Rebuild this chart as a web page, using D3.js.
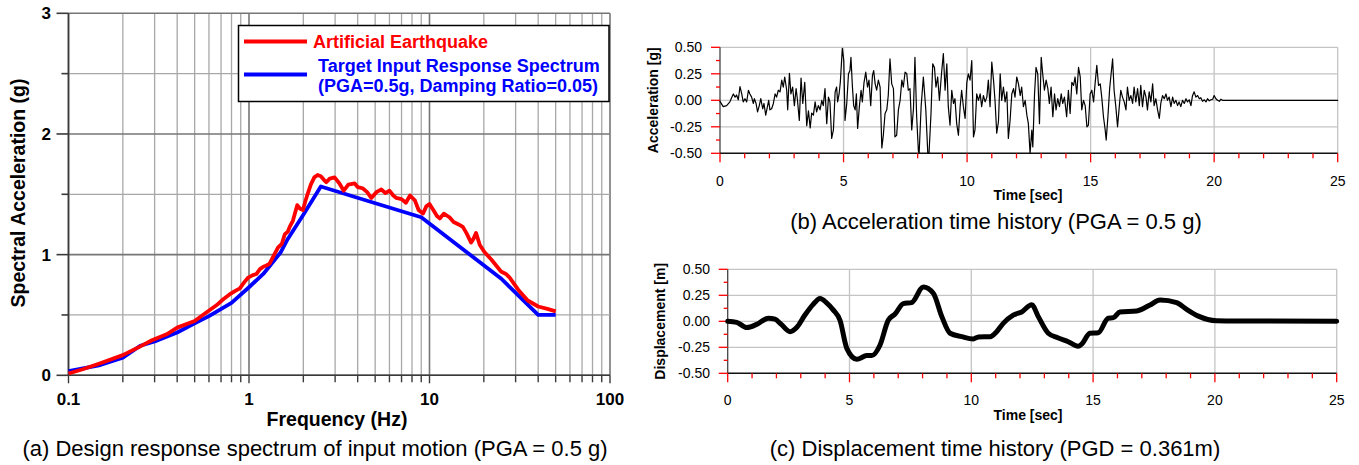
<!DOCTYPE html>
<html><head><meta charset="utf-8">
<script src="https://cdn.jsdelivr.net/npm/d3@7"></script>
<style>
html,body{margin:0;padding:0;background:#fff;}
svg{display:block;font-family:"Liberation Sans",Arial,Helvetica,sans-serif;}
</style></head><body>
<svg id="c" width="1359" height="465"></svg>
<script>
// ---------- Panel (a): response spectrum ----------
const freqTickLabels = ["0.1", "1", "10", "100"];
const freqTickValues = [0.1, 1, 10, 100];
const saTickLabels = ["0", "1", "2", "3"];
const saTickValues = [0, 1, 2, 3];

const redFreq = [0.1,0.12,0.15,0.2,0.25,0.29,0.35,0.4,0.5,0.58,0.66,0.72,0.78,0.84,0.89,0.94,0.99,1.05,1.1,1.15,1.2,1.25,1.3,1.38,1.45,1.52,1.58,1.64,1.68,1.75,1.85,1.92,1.99,2.05,2.11,2.2,2.3,2.4,2.5,2.6,2.68,2.8,2.98,3.17,3.35,3.55,3.85,4.0,4.26,4.5,4.76,5.1,5.41,5.7,6.0,6.3,6.55,7.0,7.4,7.8,8.3,8.7,9.2,9.6,10.0,10.5,11.0,11.4,12.0,12.9,13.6,14.5,15.3,16.0,17.0,17.5,18.1,19.0,20.2,22.0,24.9,26.5,27.8,31.0,35.0,40.0,45.0,50.0];
const redSa = [0.015,0.05,0.10,0.167,0.24,0.29,0.34,0.395,0.45,0.52,0.58,0.63,0.67,0.70,0.72,0.77,0.81,0.83,0.84,0.88,0.90,0.91,0.925,1.00,1.06,1.09,1.17,1.19,1.23,1.28,1.41,1.38,1.37,1.44,1.50,1.58,1.64,1.66,1.65,1.62,1.60,1.63,1.64,1.59,1.53,1.58,1.59,1.56,1.55,1.52,1.47,1.52,1.54,1.51,1.53,1.49,1.47,1.46,1.43,1.49,1.45,1.37,1.34,1.40,1.42,1.37,1.32,1.30,1.34,1.31,1.27,1.25,1.23,1.18,1.10,1.13,1.18,1.08,1.02,0.96,0.86,0.84,0.81,0.71,0.62,0.57,0.55,0.53];

const blueFreq = [0.1,0.15,0.2,0.25,0.3,0.4,0.5,0.6,0.8,1.0,1.2,1.5,1.64,2.0,2.5,4.66,9.0,25.0,40.0,50.0];
const blueSa = [0.035,0.085,0.145,0.245,0.28,0.355,0.43,0.49,0.6,0.73,0.84,1.02,1.13,1.33,1.565,1.44,1.31,0.80,0.50,0.50];

const legendLabels = ["Artificial Earthquake", "Target Input Response Spectrum", "(PGA=0.5g, Damping Ratio=0.05)"];

// ---------- Panel (b): acceleration time history ----------
const timeTickValues = [0, 5, 10, 15, 20, 25];
const timeTickLabels = ["0", "5", "10", "15", "20", "25"];
const ampTickValues = [0.5, 0.25, 0, -0.25, -0.5];
const ampTickLabels = ["0.50", "0.25", "0.00", "-0.25", "-0.50"];

const accTime = [0,0.13,0.27,0.40,0.47,0.54,0.61,0.67,0.74,0.81,0.88,0.94,1.01,1.08,1.15,1.21,1.28,1.35,1.39,1.46,1.52,1.59,1.65,1.73,1.78,1.85,1.92,1.97,2.02,2.09,2.16,2.23,2.29,2.36,2.43,2.50,2.56,2.62,2.70,2.74,2.81,2.87,2.94,3.01,3.08,3.13,3.21,3.28,3.35,3.43,3.51,3.58,3.65,3.71,3.78,
3.85,3.91,3.98,4.05,4.12,4.18,4.25,4.32,4.39,4.45,4.52,4.59,4.66,4.72,4.76,4.82,4.87,4.95,5.01,5.06,5.13,5.20,5.26,5.30,5.36,5.41,5.47,5.52,5.57,5.64,5.71,5.76,5.83,5.90,5.97,6.03,6.10,6.17,6.22,6.28,6.34,6.41,6.48,6.55,6.61,6.68,6.75,6.81,6.88,6.95,7.02,7.08,7.15,7.22,7.29,7.36,7.42,7.49,7.56,7.62,7.69,7.76,7.83,7.89,7.96,8.03,8.06,8.14,8.23,8.33,8.41,8.46,8.54,8.61,8.68,8.74,8.81,8.88,
8.97,9.04,9.11,9.18,9.24,9.31,9.38,9.45,9.51,9.58,9.65,9.72,9.78,9.85,9.92,9.99,10.05,10.12,10.19,10.26,10.32,10.39,10.46,10.53,10.59,10.66,10.73,10.80,10.86,10.93,11.00,11.07,11.13,11.20,11.27,11.34,11.40,11.47,11.54,11.61,11.67,11.74,11.81,11.88,11.94,12.01,12.08,12.15,12.21,12.28,12.35,12.42,12.48,12.55,12.62,12.66,12.73,12.79,12.86,12.93,13.00,13.06,13.13,13.20,13.27,13.33,13.40,13.47,13.54,13.60,13.67,13.74,13.81,13.87,13.94,
14.03,14.10,14.17,14.24,14.31,14.37,14.44,14.51,14.58,14.64,14.71,14.78,14.85,14.91,14.98,15.05,15.12,15.18,15.25,15.32,15.39,15.45,15.52,15.59,15.63,15.70,15.77,15.83,15.89,15.95,16.02,16.09,16.16,16.22,16.29,16.36,16.43,16.49,16.56,16.63,16.70,16.76,16.83,16.90,16.97,17.03,17.10,17.17,17.24,17.30,17.37,17.44,17.51,17.57,17.64,17.71,17.78,17.84,17.91,17.98,18.05,18.11,18.18,18.25,18.32,18.38,18.45,18.52,18.58,18.65,18.72,18.79,18.86,18.92,18.99,19.06,19.12,19.19,19.26,19.33,19.40,19.46,19.53,19.60,19.67,19.73,19.80,19.87,19.94,20.00,20.07,20.14,20.21,20.27,20.34,20.60,25.0];
const accG = [-0.01,-0.06,-0.05,-0.015,0.025,0.06,0.03,0.05,0.005,0.13,0.06,-0.015,0.015,-0.015,0.095,0.06,0.03,-0.03,0.015,-0.03,-0.11,-0.05,0.015,-0.08,-0.03,-0.14,-0.06,0.0,-0.09,-0.08,-0.03,0.06,0.03,0.095,0.08,0.19,0.125,0.22,0.095,-0.09,0.255,0.06,0.125,-0.05,0.11,0.015,-0.19,0.21,-0.03,0.17,-0.24,-0.1,-0.26,-0.12,-0.14,
-0.015,-0.11,-0.05,-0.09,0.0,-0.05,0.11,-0.22,0.03,-0.015,-0.36,-0.28,0.08,0.125,-0.015,0.06,0.17,0.49,0.375,-0.19,-0.03,0.25,0.28,0.405,0.125,-0.05,-0.09,0.06,-0.265,-0.06,0.095,-0.015,0.17,0.265,0.125,0.19,-0.05,0.235,0.28,0.155,0.095,0.19,0.125,-0.45,-0.33,-0.125,-0.09,0.045,0.39,0.155,0.11,-0.345,-0.33,-0.09,0.0,0.19,0.125,0.265,0.25,0.095,0.11,-0.28,-0.08,0.405,-0.155,-0.48,-0.5,-0.06,0.22,-0.09,-0.5,-0.5,-0.125,0.345,0.31,0.125,0.22,0.0,
0.265,0.44,0.095,0.345,-0.06,-0.235,0.095,-0.03,0.015,-0.22,-0.33,-0.06,0.095,-0.06,-0.17,0.17,0.25,0.19,0.375,-0.345,-0.28,0.06,0.0,0.06,-0.06,0.045,-0.015,0.03,0.19,-0.06,0.36,0.19,0.0,-0.31,-0.2,0.25,0.0,0.125,-0.015,0.08,-0.36,-0.19,0.06,0.11,0.03,0.22,0.155,0.045,0.125,-0.06,0.0,-0.14,-0.22,-0.5,-0.28,-0.44,0.06,0.31,0.25,-0.22,0.405,0.25,0.095,0.19,0.11,-0.03,0.125,-0.155,0.06,-0.09,0.015,-0.06,0.06,-0.03,0.03,
-0.155,0.095,-0.125,0.17,0.14,0.22,0.06,0.31,0.22,-0.09,0.0,-0.05,-0.25,-0.235,0.06,0.095,-0.015,0.155,0.33,0.14,0.155,0.03,-0.155,-0.28,-0.375,-0.155,0.11,0.25,0.39,0.095,-0.06,-0.25,-0.06,0.095,0.03,-0.015,-0.09,0.125,0.0,0.045,-0.03,0.125,-0.015,0.11,-0.05,0.14,-0.06,0.095,0.03,-0.09,0.08,-0.015,0.155,-0.05,0.015,-0.09,-0.17,-0.03,0.045,0.015,0.06,0.0,0.03,-0.06,0.03,-0.03,0.0,-0.05,-0.015,-0.06,0.0,-0.03,0.015,-0.015,0.005,-0.05,0.04,0.08,0.03,0.045,0.015,0.025,-0.01,0.005,-0.015,0.015,-0.005,0.005,0.01,0.045,0.015,0.0,-0.01,0.01,0.0,0.0,0.0];

// ---------- Panel (c): displacement time history ----------
const dispTime = [0,0.37,0.78,1.19,1.67,1.94,2.2,2.56,2.83,3.17,3.5,3.79,4.05,4.33,4.61,4.89,5.30,5.71,5.91,6.25,6.59,6.87,7.21,7.55,8.03,8.44,8.79,9.13,9.61,10.08,10.29,10.77,11.04,11.31,11.72,12.07,12.48,12.75,13.16,13.57,13.98,14.39,14.53,14.87,15.21,15.62,15.83,16.10,16.79,17.34,17.75,18.43,18.84,19.32,20.07,21.0,25.0];
const dispM = [0,-0.01,-0.06,-0.03,0.03,0.02,-0.03,-0.10,-0.06,0.06,0.16,0.22,0.18,0.11,0.01,-0.26,-0.365,-0.33,-0.33,-0.23,0.01,0.07,0.17,0.18,0.33,0.27,0.045,-0.115,-0.148,-0.17,-0.15,-0.148,-0.10,-0.02,0.06,0.09,0.16,0.045,-0.115,-0.16,-0.196,-0.24,-0.22,-0.115,-0.11,0.03,0.035,0.09,0.10,0.157,0.205,0.18,0.115,0.05,0.006,0.003,0.0];

const captions = ["(a) Design response spectrum of input motion (PGA = 0.5 g)", "(b) Acceleration time history (PGA = 0.5 g)", "(c) Displacement time history (PGD = 0.361m)"];

const svg = d3.select("#c");

// ================= Panel (a) =================
const xA = d3.scaleLog().domain([0.1, 100]).range([68.5, 610]);
const yA = d3.scaleLinear().domain([0, 3]).range([375.3, 13.3]);
const gA = svg.append("g");
const isDecade = v => Math.abs(Math.log10(v) - Math.round(Math.log10(v))) < 1e-6;

// vertical grid
gA.append("g").selectAll("line").data(xA.ticks()).join("line")
  .attr("x1", d => xA(d)).attr("x2", d => xA(d))
  .attr("y1", yA(3)).attr("y2", yA(0))
  .attr("stroke", d => isDecade(d) ? "#767676" : "#a8a8a8")
  .attr("stroke-width", d => isDecade(d) ? 1.6 : 1.3);
// horizontal grid
gA.append("g").selectAll("line").data(yA.ticks(6)).join("line")
  .attr("x1", xA(0.1)).attr("x2", xA(100))
  .attr("y1", d => yA(d)).attr("y2", d => yA(d))
  .attr("stroke", d => Number.isInteger(d) ? "#767676" : "#a8a8a8")
  .attr("stroke-width", d => Number.isInteger(d) ? 1.6 : 1.3);

// axes lines
gA.append("line").attr("x1", xA(0.1)).attr("x2", xA(0.1)).attr("y1", yA(3)).attr("y2", yA(0)).attr("stroke", "#3a3a3a").attr("stroke-width", 1.6);
gA.append("line").attr("x1", xA(0.1)).attr("x2", xA(100)).attr("y1", yA(0)).attr("y2", yA(0)).attr("stroke", "#3a3a3a").attr("stroke-width", 1.6);

// y ticks
gA.append("g").selectAll("line").data(yA.ticks(6)).join("line")
  .attr("x1", d => xA(0.1) - (Number.isInteger(d) ? 12 : 7)).attr("x2", xA(0.1))
  .attr("y1", d => yA(d)).attr("y2", d => yA(d))
  .attr("stroke", "#3a3a3a").attr("stroke-width", 1.6);
// x ticks
gA.append("g").selectAll("line").data(xA.ticks()).join("line")
  .attr("x1", d => xA(d)).attr("x2", d => xA(d))
  .attr("y1", yA(0)).attr("y2", d => yA(0) + (isDecade(d) ? 8 : 7))
  .attr("stroke", "#3a3a3a").attr("stroke-width", 1.4);

// tick labels
gA.append("g").selectAll("text").data(saTickValues).join("text")
  .attr("x", 51).attr("y", d => yA(d) + 6)
  .attr("text-anchor", "end").attr("font-size", 17).attr("font-weight", "bold")
  .text((d, i) => saTickLabels[i]);
gA.append("g").selectAll("text").data(freqTickValues).join("text")
  .attr("x", d => xA(d)).attr("y", 405)
  .attr("text-anchor", "middle").attr("font-size", 17).attr("font-weight", "bold")
  .text((d, i) => freqTickLabels[i]);

// axis titles
gA.append("text").attr("x", 337).attr("y", 426).attr("text-anchor", "middle")
  .attr("font-size", 19.5).attr("font-weight", "bold").text("Frequency (Hz)");
gA.append("text").attr("transform", "translate(25,193) rotate(-90)").attr("text-anchor", "middle")
  .attr("font-size", 19.5).attr("font-weight", "bold").text("Spectral Acceleration (g)");

// lines
const lineA = d3.line().x(d => xA(d[0])).y(d => yA(d[1]));
gA.append("path").datum(blueFreq.map((f, i) => [f, blueSa[i]]))
  .attr("d", lineA).attr("fill", "none").attr("stroke", "#0000ff").attr("stroke-width", 3.8).attr("stroke-linejoin", "round");
gA.append("path").datum(redFreq.map((f, i) => [f, redSa[i]]))
  .attr("d", lineA).attr("fill", "none").attr("stroke", "#ff0000").attr("stroke-width", 3.8).attr("stroke-linejoin", "round");

// legend
const leg = gA.append("g");
leg.append("rect").attr("x", 238.5).attr("y", 25.5).attr("width", 370.5).attr("height", 76)
  .attr("fill", "#fff").attr("stroke", "#000").attr("stroke-width", 1.5);
leg.append("line").attr("x1", 244).attr("x2", 307).attr("y1", 41.5).attr("y2", 41.5).attr("stroke", "#ff0000").attr("stroke-width", 3.8);
leg.append("line").attr("x1", 244).attr("x2", 307).attr("y1", 74.5).attr("y2", 74.5).attr("stroke", "#0000ff").attr("stroke-width", 3.8);
leg.append("text").attr("x", 313).attr("y", 48).attr("font-size", 18).attr("font-weight", "bold").attr("fill", "#ff0000").text(legendLabels[0]);
leg.append("text").attr("x", 318).attr("y", 72).attr("font-size", 18).attr("font-weight", "bold").attr("fill", "#0000ff").text(legendLabels[1]);
leg.append("text").attr("x", 318).attr("y", 92).attr("font-size", 18).attr("font-weight", "bold").attr("fill", "#0000ff").text(legendLabels[2]);

svg.append("text").attr("x", 315).attr("y", 456).attr("text-anchor", "middle").attr("font-size", 22).text(captions[0]);

// ================= Time-history panels =================
function timePanel(opts) {
  const x = d3.scaleLinear().domain([0, 25]).range(opts.xr);
  const y = d3.scaleLinear().domain([-0.5, 0.5]).range(opts.yr);
  const g = svg.append("g");
  // grid
  g.append("g").selectAll("line").data([-0.25, 0, 0.25, 0.5]).join("line")
    .attr("x1", x(0)).attr("x2", x(25)).attr("y1", d => y(d)).attr("y2", d => y(d))
    .attr("stroke", "#c4c4c4").attr("stroke-width", 1.3);
  g.append("g").selectAll("line").data([5, 10, 15, 20, 25]).join("line")
    .attr("x1", d => x(d)).attr("x2", d => x(d)).attr("y1", y(0.5)).attr("y2", y(-0.5))
    .attr("stroke", "#c4c4c4").attr("stroke-width", 1.3);
  // axes
  g.append("line").attr("x1", x(0)).attr("x2", x(0)).attr("y1", y(0.5)).attr("y2", y(-0.5)).attr("stroke", "#444").attr("stroke-width", 1.3);
  g.append("line").attr("x1", x(0)).attr("x2", x(25)).attr("y1", y(-0.5)).attr("y2", y(-0.5)).attr("stroke", "#111").attr("stroke-width", 1.5);
  // red ticks
  g.append("g").selectAll("line").data(d3.range(-0.5, 0.5001, 0.125)).join("line")
    .attr("x1", d => x(0) - (Math.abs(d * 4 - Math.round(d * 4)) < 1e-6 ? 9 : 4)).attr("x2", x(0))
    .attr("y1", d => y(d)).attr("y2", d => y(d))
    .attr("stroke", "#ff0000").attr("stroke-width", 1.3);
  g.append("g").selectAll("line").data(d3.range(0, 25.001, 1)).join("line")
    .attr("x1", d => x(d)).attr("x2", d => x(d))
    .attr("y1", y(-0.5)).attr("y2", d => y(-0.5) + (d % 5 === 0 ? 9 : 5))
    .attr("stroke", "#ff0000").attr("stroke-width", 1.3);
  // tick labels
  g.append("g").selectAll("text").data(ampTickValues).join("text")
    .attr("x", opts.ylabX).attr("y", d => y(d) + 5)
    .attr("text-anchor", "end").attr("font-size", 14).text((d, i) => ampTickLabels[i]);
  g.append("g").selectAll("text").data(timeTickValues).join("text")
    .attr("x", d => x(d)).attr("y", opts.xlabY)
    .attr("text-anchor", "middle").attr("font-size", 14).text((d, i) => timeTickLabels[i]);
  g.append("text").attr("x", 1028).attr("y", opts.xtitleY).attr("text-anchor", "middle")
    .attr("font-size", 14).attr("font-weight", "bold").text("Time [sec]");
  g.append("text").attr("transform", `translate(${opts.ytitleX},${(opts.yr[0] + opts.yr[1]) / 2}) rotate(-90)`)
    .attr("text-anchor", "middle").attr("font-size", 14).attr("font-weight", "bold").text(opts.ytitle);
  // data
  const line = d3.line().x(d => x(d[0])).y(d => y(d[1]));
  if (opts.curve) line.curve(opts.curve);
  g.append("path").datum(opts.t.map((t, i) => [t, opts.v[i]]))
    .attr("d", line).attr("fill", "none").attr("stroke", "#000")
    .attr("stroke-width", opts.sw).attr("stroke-linejoin", "round").attr("stroke-linecap", "round");
  svg.append("text").attr("x", opts.capX).attr("y", opts.capY).attr("text-anchor", "middle").attr("font-size", 22).text(opts.caption);
}

timePanel({xr: [720, 1337.7], yr: [153.3, 47.3], t: accTime, v: accG, sw: 1.2,
  ylabX: 702, xlabY: 186, xtitleY: 200, ytitleX: 658, ytitle: "Acceleration [g]",
  caption: captions[1], capX: 996, capY: 229});
timePanel({xr: [727.7, 1336.7], yr: [373.3, 269.3], t: dispTime, v: dispM, sw: 5, curve: d3.curveMonotoneX,
  ylabX: 710, xlabY: 405, xtitleY: 420, ytitleX: 665, ytitle: "Displacement [m]",
  caption: captions[2], capX: 995, capY: 456});
</script>
</body></html>
